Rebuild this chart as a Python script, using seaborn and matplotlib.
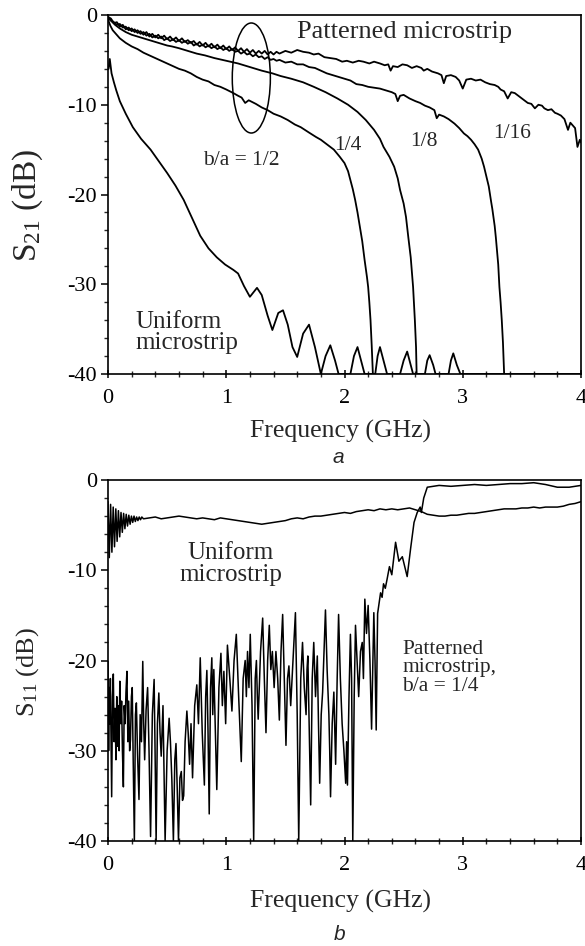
import matplotlib
matplotlib.use("Agg")
import matplotlib.pyplot as plt
from matplotlib.ticker import MultipleLocator
from matplotlib.patches import Ellipse
import seaborn as sns
import pandas as pd

# ---------------- data ----------------
# Panel a : S21 (dB)
s21_116_f = [0.000, 0.025, 0.050, 0.075, 0.100, 0.125, 0.150, 0.175, 0.200, 0.225, 0.250, 0.275,
             0.300, 0.325, 0.350, 0.375, 0.400, 0.425, 0.450, 0.475, 0.500, 0.525, 0.550, 0.575,
             0.600, 0.625, 0.650, 0.675, 0.700, 0.725, 0.750, 0.775, 0.800, 0.825, 0.850, 0.875,
             0.900, 0.925, 0.950, 0.975, 1.000, 1.025, 1.050, 1.075, 1.100, 1.125, 1.150, 1.175,
             1.200, 1.225, 1.250, 1.275, 1.300, 1.325, 1.350, 1.375, 1.400, 1.425, 1.450,
             1.50, 1.55, 1.60, 1.65, 1.70, 1.74, 1.78, 1.83, 1.88, 1.93, 1.98, 2.02, 2.07, 2.12,
             2.16, 2.21, 2.25, 2.30, 2.34, 2.37, 2.39, 2.41, 2.45, 2.49, 2.53, 2.57, 2.61, 2.65,
             2.67, 2.70, 2.74, 2.79, 2.82, 2.84, 2.86, 2.90, 2.94, 2.97, 3.00, 3.03, 3.07, 3.11,
             3.15, 3.19, 3.23, 3.27, 3.30, 3.32, 3.35, 3.38, 3.41, 3.44, 3.48, 3.52, 3.55, 3.58,
             3.61, 3.64, 3.67, 3.69, 3.72, 3.75, 3.78, 3.80, 3.83, 3.86, 3.89, 3.91, 3.93, 3.95,
             3.97, 3.99, 4.00]
s21_116_db = [-0.2, -0.4, -0.9, -0.8, -1.3, -1.1, -1.6, -1.4, -1.8, -1.6, -2.0, -1.8,
              -2.2, -1.9, -2.4, -2.1, -2.5, -2.2, -2.6, -2.3, -2.7, -2.4, -2.8, -2.5,
              -2.9, -2.6, -3.0, -2.8, -3.1, -2.9, -3.3, -3.0, -3.4, -3.1, -3.5, -3.2,
              -3.6, -3.3, -3.7, -3.4, -3.8, -3.5, -3.9, -3.6, -4.0, -3.7, -4.1, -3.8,
              -4.2, -3.9, -4.3, -4.0, -4.3, -4.0, -4.4, -4.1, -4.4, -4.1, -4.3,
              -4.0, -4.2, -3.9, -4.1, -4.2, -4.4, -4.3, -4.7, -4.8, -4.9, -5.2, -5.1, -5.3, -5.1,
              -5.2, -5.4, -5.2, -5.4, -5.6, -5.5, -6.2, -5.7, -5.8, -5.5, -5.6, -5.9, -5.7, -5.9,
              -6.2, -6.0, -6.3, -6.5, -6.7, -7.6, -6.8, -6.7, -6.9, -7.3, -8.2, -7.2, -7.1, -7.3,
              -7.2, -7.5, -7.7, -7.8, -8.0, -8.3, -8.5, -9.3, -8.6, -8.7, -9.1, -9.5, -9.8, -9.9,
              -10.4, -10.0, -10.1, -10.4, -10.6, -10.5, -10.9, -11.0, -11.2, -11.6, -12.8, -12.0, -12.3, -12.6,
              -14.7, -13.9, -14.2]

s21_18_f = [0.000, 0.025, 0.050, 0.075, 0.100, 0.125, 0.150, 0.175, 0.200, 0.225, 0.250, 0.275,
            0.300, 0.325, 0.350, 0.375, 0.400, 0.425, 0.450, 0.475, 0.500, 0.525, 0.550, 0.575,
            0.600, 0.625, 0.650, 0.675, 0.700, 0.725, 0.750, 0.775, 0.800, 0.825, 0.850, 0.875,
            0.900, 0.925, 0.950, 0.975, 1.000, 1.025, 1.050, 1.075, 1.100, 1.125, 1.150, 1.175,
            1.200, 1.225, 1.250, 1.275, 1.300, 1.325, 1.350, 1.375, 1.400, 1.425, 1.450,
            1.50, 1.55, 1.60, 1.65, 1.70, 1.75, 1.80, 1.85, 1.90, 1.95, 2.00, 2.05, 2.10, 2.15,
            2.20, 2.25, 2.30, 2.35, 2.40, 2.43, 2.45, 2.47, 2.50, 2.55, 2.60, 2.64, 2.68, 2.72,
            2.76, 2.78, 2.80, 2.84, 2.88, 2.93, 2.97, 3.01, 3.04, 3.07, 3.10, 3.13, 3.16, 3.18,
            3.20, 3.22, 3.24, 3.25, 3.27, 3.28, 3.30, 3.31, 3.32, 3.33, 3.34, 3.35]
s21_18_db = [-0.3, -0.6, -0.8, -1.1, -1.0, -1.4, -1.3, -1.7, -1.5, -1.9, -1.7, -2.1,
             -1.9, -2.3, -2.1, -2.5, -2.3, -2.6, -2.4, -2.8, -2.6, -2.9, -2.7, -3.0,
             -2.8, -3.1, -2.9, -3.2, -3.0, -3.4, -3.2, -3.5, -3.3, -3.6, -3.4, -3.7,
             -3.5, -3.8, -3.6, -3.9, -3.7, -4.0, -3.8, -4.1, -4.0, -4.3, -4.1, -4.4,
             -4.3, -4.6, -4.4, -4.7, -4.6, -4.9, -4.7, -5.0, -4.9, -5.1, -5.0,
             -5.3, -5.2, -5.5, -5.5, -5.8, -5.9, -6.2, -6.5, -6.7, -6.9, -7.1, -7.3, -7.7, -7.8,
             -8.0, -8.1, -8.2, -8.4, -8.6, -8.8, -9.6, -9.0, -8.9, -9.3, -9.6, -9.8, -10.1, -10.3,
             -10.6, -11.5, -11.1, -11.3, -11.6, -12.1, -12.6, -13.2, -13.5, -13.9, -14.4, -15.0, -16.0, -16.9,
             -18.0, -19.1, -20.8, -21.6, -23.5, -24.8, -27.8, -30.3, -32.0, -34.0, -36.5, -40.0]

s21_14_f = [0.000, 0.03, 0.06, 0.10, 0.15, 0.20, 0.25, 0.30, 0.35, 0.40, 0.45, 0.50, 0.54, 0.60,
            0.65, 0.70, 0.75, 0.82, 0.90, 1.00, 1.10, 1.20, 1.30, 1.39, 1.46, 1.55, 1.65, 1.74,
            1.84, 1.94, 2.03, 2.11, 2.18, 2.25, 2.30, 2.33, 2.38, 2.42, 2.45, 2.47, 2.50, 2.52,
            2.54, 2.56, 2.58, 2.595, 2.605, 2.61]
s21_14_db = [-0.3, -0.7, -1.1, -1.5, -1.9, -2.2, -2.4, -2.6, -2.8, -3.0, -3.2, -3.4, -3.5, -3.7,
             -3.9, -4.1, -4.3, -4.5, -4.8, -5.1, -5.4, -5.8, -6.2, -6.5, -6.8, -7.1, -7.5, -8.0,
             -8.6, -9.3, -10.0, -10.8, -11.7, -12.8, -13.8, -14.7, -15.8, -16.9, -18.2, -19.5, -21.0, -22.5,
             -24.8, -27.0, -30.3, -34.0, -37.0, -40.0]

s21_12_f = [0.000, 0.02, 0.04, 0.06, 0.10, 0.15, 0.20, 0.25, 0.30, 0.35, 0.40, 0.45, 0.50, 0.55,
            0.60, 0.65, 0.70, 0.75, 0.80, 0.85, 0.90, 0.95, 1.00, 1.06, 1.10, 1.13, 1.16, 1.19,
            1.25, 1.30, 1.35, 1.40, 1.46, 1.52, 1.58, 1.63, 1.70, 1.76, 1.80, 1.86, 1.91, 1.96,
            2.00, 2.03, 2.05, 2.07, 2.09, 2.11, 2.13, 2.15, 2.17, 2.19, 2.20, 2.21, 2.22, 2.23, 2.24]
s21_12_db = [-0.5, -1.2, -1.7, -2.0, -2.6, -3.1, -3.5, -3.8, -4.2, -4.5, -4.8, -5.1, -5.4, -5.7,
             -6.0, -6.2, -6.5, -6.9, -7.2, -7.4, -7.8, -8.0, -8.3, -8.7, -9.0, -9.2, -9.8, -9.5,
             -9.9, -10.3, -10.6, -11.0, -11.3, -11.7, -12.2, -12.5, -13.1, -13.6, -13.9, -14.5, -15.0, -15.8,
             -16.5, -17.4, -18.4, -19.4, -20.6, -22.0, -23.6, -25.2, -27.3, -29.2, -30.3, -32.0, -34.0, -36.8, -40.0]

s21_uni_f = [0.005, 0.015, 0.03, 0.05, 0.07, 0.10, 0.15, 0.21, 0.28, 0.36, 0.43, 0.50, 0.57, 0.64,
             0.71, 0.78, 0.85, 0.92, 0.99, 1.06, 1.10, 1.15, 1.20, 1.26, 1.30, 1.35, 1.39, 1.44,
             1.48, 1.52, 1.56, 1.60, 1.65, 1.70, 1.75, 1.80, 1.84, 1.88, 1.92, 1.95, 2.05, 2.08,
             2.11, 2.14, 2.17, 2.26, 2.28, 2.30, 2.33, 2.36, 2.47, 2.50, 2.53, 2.56, 2.58, 2.68,
             2.70, 2.72, 2.75, 2.77, 2.88, 2.90, 2.92, 2.95, 2.98, 4.00]
s21_uni_db = [-6.0, -4.9, -6.5, -7.5, -8.4, -9.6, -11.0, -12.5, -13.8, -15.0, -16.3, -17.6, -19.0, -20.6,
              -22.6, -24.6, -26.0, -27.0, -27.8, -28.4, -28.8, -30.2, -31.4, -30.4, -31.2, -33.5, -35.1, -33.2,
              -32.9, -34.5, -37.0, -38.1, -35.5, -34.5, -37.0, -40.0, -38.0, -36.8, -38.5, -40.0, -40.0, -38.0,
              -37.0, -38.5, -40.0, -40.0, -38.0, -37.0, -38.5, -40.0, -40.0, -38.5, -37.5, -39.0, -40.0, -40.0,
              -38.5, -37.9, -39.0, -40.0, -40.0, -38.5, -37.7, -39.0, -40.0, -40.0]

# Panel b : S11 (dB)
s11_uni_f = [0.000, 0.011, 0.022, 0.033, 0.044, 0.055, 0.066, 0.077, 0.088, 0.099, 0.110, 0.121,
             0.132, 0.143, 0.154, 0.165, 0.176, 0.187, 0.198, 0.209, 0.220, 0.231, 0.242, 0.253,
             0.264, 0.275, 0.286, 0.30, 0.35, 0.40, 0.45, 0.50, 0.55, 0.60, 0.65, 0.70, 0.75,
             0.80, 0.85, 0.90, 0.95, 1.00, 1.05, 1.10, 1.15, 1.20, 1.25, 1.30, 1.35, 1.40, 1.45,
             1.50, 1.55, 1.60, 1.65, 1.70, 1.75, 1.80, 1.85, 1.90, 1.95, 2.00, 2.05, 2.10, 2.15,
             2.20, 2.25, 2.30, 2.35, 2.40, 2.45, 2.50, 2.55, 2.60, 2.65, 2.70, 2.75, 2.80, 2.85,
             2.90, 2.95, 3.00, 3.05, 3.10, 3.15, 3.20, 3.25, 3.30, 3.35, 3.40, 3.45, 3.50, 3.55,
             3.60, 3.65, 3.70, 3.75, 3.80, 3.85, 3.90, 3.95, 4.00]
s11_uni_db = [-2.4, -8.6, -2.7, -8.0, -3.0, -7.4, -3.2, -6.8, -3.4, -6.3, -3.6, -5.8,
              -3.7, -5.4, -3.8, -5.1, -3.9, -4.9, -4.0, -4.7, -4.0, -4.6, -4.1, -4.5,
              -4.1, -4.4, -4.1, -4.3, -4.2, -4.1, -4.3, -4.2, -4.1, -4.0, -4.1, -4.2, -4.3,
              -4.2, -4.3, -4.4, -4.2, -4.3, -4.4, -4.5, -4.6, -4.7, -4.8, -4.9, -4.8, -4.7, -4.6,
              -4.5, -4.3, -4.2, -4.3, -4.1, -4.0, -4.0, -3.9, -3.8, -3.7, -3.6, -3.7, -3.5, -3.4,
              -3.3, -3.4, -3.2, -3.3, -3.2, -3.3, -3.2, -3.1, -3.3, -3.5, -3.8, -3.9, -4.0, -4.0,
              -3.9, -3.9, -3.8, -3.7, -3.7, -3.6, -3.5, -3.4, -3.3, -3.2, -3.2, -3.2, -3.1, -3.1,
              -3.0, -3.1, -3.0, -3.0, -3.0, -2.9, -2.7, -2.6, -2.4]

s11_pat_f = [0.000, 0.005, 0.010, 0.015, 0.020, 0.031, 0.038, 0.045, 0.052, 0.060, 0.067, 0.074,
             0.080, 0.087, 0.094, 0.100, 0.108, 0.115, 0.122, 0.130, 0.137, 0.145, 0.152, 0.160,
             0.168, 0.175, 0.183, 0.190, 0.198, 0.205, 0.213, 0.223, 0.232, 0.240, 0.250, 0.262,
             0.272, 0.283, 0.294, 0.302, 0.310, 0.322, 0.335, 0.347, 0.360, 0.375, 0.390, 0.398,
             0.407, 0.418, 0.430, 0.440, 0.450, 0.465, 0.483, 0.500, 0.517, 0.528, 0.540, 0.553,
             0.565, 0.575, 0.585, 0.596, 0.608, 0.620, 0.630, 0.640, 0.652, 0.667, 0.678, 0.690,
             0.702, 0.715, 0.733, 0.751, 0.765, 0.780, 0.797, 0.815, 0.826, 0.836, 0.846, 0.856,
             0.867, 0.878, 0.886, 0.895, 0.908, 0.920, 0.938, 0.955, 0.967, 0.980, 0.995, 1.010,
             1.030, 1.048, 1.066, 1.085, 1.105, 1.127, 1.143, 1.160, 1.170, 1.180, 1.192, 1.203,
             1.218, 1.232, 1.245, 1.255, 1.263, 1.270, 1.290, 1.308, 1.322, 1.336, 1.350, 1.364,
             1.377, 1.390, 1.405, 1.420, 1.435, 1.449, 1.463, 1.477, 1.491, 1.505, 1.518, 1.530,
             1.545, 1.560, 1.572, 1.585, 1.600, 1.613, 1.630, 1.645, 1.660, 1.675, 1.683, 1.690,
             1.702, 1.714, 1.727, 1.740, 1.755, 1.770, 1.780, 1.790, 1.803, 1.815, 1.827, 1.839,
             1.853, 1.868, 1.875, 1.882, 1.896, 1.910, 1.918, 1.925, 1.938, 1.950, 1.965, 1.980,
             1.995, 2.010, 2.018, 2.025, 2.038, 2.050, 2.060, 2.070, 2.082, 2.093, 2.106, 2.120,
             2.135, 2.150, 2.160, 2.172, 2.186, 2.200, 2.215, 2.229, 2.248, 2.258, 2.268, 2.280,
             2.305, 2.318, 2.330, 2.345, 2.360, 2.380, 2.400, 2.432, 2.460, 2.489, 2.530, 2.560,
             2.588, 2.615, 2.640, 2.650, 2.670, 2.700, 2.80, 2.90, 3.00, 3.10, 3.20, 3.30, 3.40,
             3.50, 3.60, 3.70, 3.80, 3.90, 4.00]
s11_pat_db = [-20.1, -30.0, -23.0, -27.0, -22.0, -35.1, -24.0, -21.5, -29.0, -25.3, -31.0, -24.0,
              -29.5, -25.0, -30.0, -22.3, -27.0, -24.5, -30.0, -34.0, -25.0, -27.0, -23.5, -21.2,
              -29.0, -24.5, -30.0, -28.8, -24.0, -23.0, -31.0, -40.0, -26.0, -24.7, -30.5, -35.4,
              -26.0, -29.0, -20.1, -27.0, -31.0, -25.5, -23.0, -30.0, -39.5, -26.0, -22.1, -30.0,
              -40.0, -27.0, -23.6, -28.0, -30.6, -25.0, -40.0, -30.0, -26.4, -29.0, -33.2, -40.0,
              -31.0, -29.2, -34.0, -40.0, -33.0, -32.3, -35.5, -35.0, -29.0, -25.6, -28.0, -31.5,
              -27.0, -33.0, -25.0, -22.7, -27.0, -19.7, -28.0, -33.8, -24.0, -21.1, -28.0, -37.0,
              -23.0, -19.7, -26.0, -21.0, -28.0, -34.3, -23.0, -19.2, -25.0, -21.2, -27.0, -18.3,
              -22.0, -25.6, -20.0, -17.1, -24.0, -31.2, -22.0, -20.0, -24.0, -19.0, -23.0, -17.1,
              -25.0, -40.0, -22.0, -20.0, -24.0, -26.5, -19.0, -15.3, -22.0, -28.0, -20.0, -16.1,
              -21.0, -19.0, -23.0, -19.0, -22.0, -26.6, -19.0, -14.9, -22.0, -29.4, -22.0, -20.6,
              -25.0, -21.2, -18.0, -14.7, -26.0, -40.0, -22.0, -18.0, -23.0, -26.0, -21.0, -19.5,
              -28.0, -36.0, -22.0, -18.0, -24.0, -19.5, -27.0, -33.6, -26.0, -23.5, -19.0, -14.4,
              -21.0, -26.0, -30.0, -35.1, -27.0, -23.5, -28.0, -31.5, -22.0, -14.9, -22.0, -27.0,
              -30.0, -33.6, -29.0, -33.8, -24.0, -17.1, -22.0, -40.0, -24.0, -16.1, -20.0, -24.0,
              -19.0, -18.0, -22.0, -13.2, -17.0, -13.9, -20.0, -27.6, -14.7, -20.0, -27.7, -14.8,
              -12.5, -13.0, -11.5, -12.0, -11.0, -9.6, -10.5, -6.9, -9.0, -8.5, -10.7, -7.5,
              -4.7, -3.6, -3.0, -3.6, -2.0, -0.8, -0.6, -0.7, -0.6, -0.5, -0.6, -0.5, -0.4,
              -0.4, -0.3, -0.5, -0.8, -0.8, -0.6]

x_ticks = [0, 1, 2, 3, 4]
y_ticks = [0, -10, -20, -30, -40]

# ---------------- style ----------------
sns.set_theme(style="ticks")
plt.rcParams["font.family"] = ["Liberation Serif", "DejaVu Serif"]
plt.rcParams["mathtext.default"] = "regular"
plt.rcParams["axes.unicode_minus"] = False

fig = plt.figure(figsize=(5.85, 9.46), dpi=100)
W, H = 585.0, 946.0
ax1 = fig.add_axes([108 / W, 1 - 374 / H, 473 / W, 359 / H])
ax2 = fig.add_axes([108 / W, 1 - 841 / H, 473 / W, 361 / H])


def draw(ax, f, db, lw):
    df = pd.DataFrame({"f": f, "db": db})
    sns.lineplot(data=df, x="f", y="db", ax=ax, color="black", lw=lw,
                 estimator=None, sort=False, legend=False)


draw(ax1, s21_116_f, s21_116_db, 1.3)
draw(ax1, s21_18_f, s21_18_db, 1.3)
draw(ax1, s21_14_f, s21_14_db, 1.3)
draw(ax1, s21_12_f, s21_12_db, 1.3)
draw(ax1, s21_uni_f, s21_uni_db, 1.3)

draw(ax2, s11_uni_f, s11_uni_db, 1.1)
draw(ax2, s11_pat_f, s11_pat_db, 1.1)

for ax in (ax1, ax2):
    ax.set_xlim(0, 4)
    ax.set_ylim(-40, 0)
    ax.set_xticks(x_ticks)
    ax.set_yticks(y_ticks)
    ax.xaxis.set_minor_locator(MultipleLocator(0.2))
    ax.yaxis.set_minor_locator(MultipleLocator(2))
    for s in ax.spines.values():
        s.set_visible(True)
        s.set_linewidth(1.2)
        s.set_color("black")
    ax.tick_params(axis="x", which="major", direction="inout", length=6, width=1.1,
                   labelsize=16, pad=8, colors="black")
    ax.tick_params(axis="x", which="minor", direction="inout", length=4, width=1.0)
    ax.tick_params(axis="y", which="major", direction="out", length=5, width=1.1,
                   labelsize=16, pad=3, colors="black")
    ax.tick_params(axis="y", which="minor", direction="out", length=3, width=1.0)
    ax.set_ylabel("")
    ax.set_xlabel("")

# labels
fig.text(341 / W, 1 - 431 / H, "Frequency (GHz)", ha="center", va="center", fontsize=18.5)
fig.text(341 / W, 1 - 901 / H, "Frequency (GHz)", ha="center", va="center", fontsize=18.5)
fig.text(338 / W, 1 - 457 / H, "a", ha="center", va="center", fontsize=15,
         family=["Liberation Sans", "DejaVu Sans"], style="italic")
fig.text(340 / W, 1 - 934 / H, "b", ha="center", va="center", fontsize=15,
         family=["Liberation Sans", "DejaVu Sans"], style="italic")
fig.text(28 / W, 1 - 205 / H, "S$_{21}$ (dB)", ha="center", va="center", rotation=90, fontsize=24)
fig.text(28 / W, 1 - 672 / H, "S$_{11}$ (dB)", ha="center", va="center", rotation=90, fontsize=19)

# annotations panel a
ax1.text(2.51, -1.9, "Patterned microstrip", ha="center", va="center", fontsize=19)
ax1.text(1.13, -16.2, "b/a = 1/2", ha="center", va="center", fontsize=15.5)
ax1.text(2.03, -14.5, "1/4", ha="center", va="center", fontsize=15.5)
ax1.text(2.67, -14.1, "1/8", ha="center", va="center", fontsize=15.5)
ax1.text(3.42, -13.2, "1/16", ha="center", va="center", fontsize=15.5)
ax1.text(0.23, -37.8, "Uniform\nmicrostrip", ha="left", va="bottom", fontsize=18,
         linespacing=0.95)
ax1.add_patch(Ellipse((1.212, -7.02), 0.322, 12.26, fill=False, ec="black", lw=1.1))

# annotations panel b
ax2.text(1.04, -9.3, "Uniform\nmicrostrip", ha="center", va="center", fontsize=18,
         linespacing=0.95)
ax2.text(2.49, -20.8, "Patterned\nmicrostrip,\nb/a = 1/4", ha="left", va="center",
         fontsize=15.5, linespacing=0.95)

fig.savefig("out.png", dpi=100, facecolor="white")
